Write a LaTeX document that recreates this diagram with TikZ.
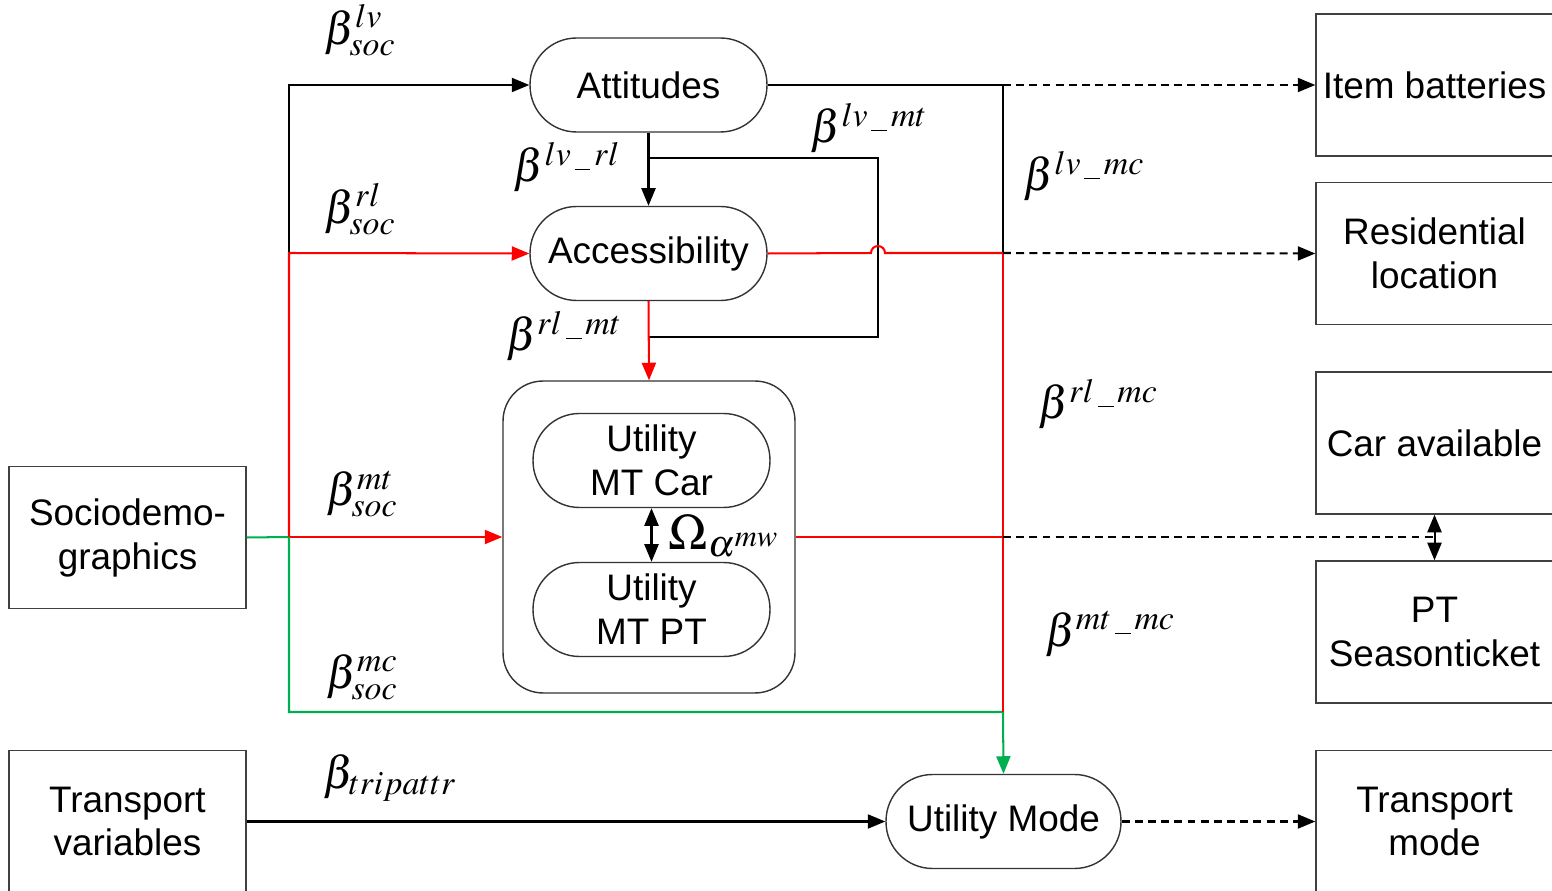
\documentclass[tikz,border=0pt]{standalone}
\usepackage{mathptmx}
\usepackage{fontspec}
\setmainfont{Liberation Sans}
\usetikzlibrary{arrows.meta}
\definecolor{mwgreen}{RGB}{0,176,80}
\newcommand{\usc}{\,\rule[-2.5pt]{9pt}{0.6pt}\,}

\begin{document}
\begin{tikzpicture}[x=0.02cm, y=-0.02cm, >={Triangle[length=10pt,width=8pt]},
    every node/.style={font=\fontsize{21}{25}\selectfont},
    latent/.style={draw=black!80, line width=0.8pt, rounded corners=0.93cm, minimum width=4.74cm, minimum height=1.88cm, align=center, inner sep=0pt},
    obsbox/.style={draw=black!75, line width=0.8pt, minimum width=4.74cm, minimum height=2.84cm, align=center, inner sep=0pt},
    coef/.style={font=\fontsize{26}{30}\selectfont},
    link/.style={line width=1.15pt},
    redlink/.style={link, red},
    greenlink/.style={link, mwgreen},
    dashlink/.style={link, dash pattern=on 4.5pt off 3pt}]
    \useasboundingbox (0,0) rectangle (1552,891);
    \clip (0,0) rectangle (1552,891);

    % observed variables
    \node[obsbox] (soc) at (127.5,537.5) {Sociodemo-\\graphics};
    \node[obsbox] (tv) at (127.5,821.5) {Transport\\variables};
    \node[obsbox] (item) at (1434.5,85) {Item batteries};
    \node[obsbox] (res) at (1434.5,253.5) {Residential\\location};
    \node[obsbox] (carav) at (1434.5,443) {Car available};
    \node[obsbox] (ptst) at (1434.5,632) {PT\\Seasonticket};
    \node[obsbox] (tm) at (1434.5,821.5) {Transport\\mode};

    % latent variables
    \node[latent] (att) at (648.5,85) {Attitudes};
    \node[latent] (acc) at (648.5,253.5) {Accessibility};
    \node[draw=black!80, line width=0.8pt, rounded corners=0.8cm, minimum width=5.84cm, minimum height=6.24cm] (mtbox) at (649,537) {};
    \node[latent] (umcar) at (651.5,460.5) {Utility\\MT Car};
    \node[latent] (umpt) at (651.5,609.5) {Utility\\MT PT};
    \node[latent, minimum width=4.7cm] (um) at (1003.5,821.5) {Utility Mode};

    \coordinate (sj) at (289,537);
    \coordinate (rlj) at (289,253);
    \coordinate (lvk) at (1003,85);
    \coordinate (rlk) at (1003,253);
    \coordinate (mtk) at (1003,537);
    \coordinate (mck) at (1003,712);
    \coordinate (b1) at (648,158);
    \coordinate (b2) at (648,337);

    % sociodemographics
    \draw[greenlink] (soc.east) -- (sj);
    \draw[link,->] (rlj) |- (att.west);
    \draw[redlink,->] (sj) -- (rlj) -- (acc.west);
    \draw[redlink,->] (sj) -- (mtbox.west);
    \draw[greenlink,->] (sj) |- (mck) -- (um.north);

    % between latent variables
    \draw[link,->] (att.south) -- (acc.north);
    \draw[link] (b1) -| (878,337) -- (b2);
    \draw[redlink,->] (acc.south) -- (mtbox.north);
    \draw[link,<->] (umcar.south) -- (umpt.north);

    % to the indicators
    \draw[link] (att.east) -- (lvk) -- (rlk);
    \draw[redlink] (acc.east) -- (871,253) arc[start angle=180, end angle=0, radius=0.14cm] -- (rlk);
    \draw[redlink] (rlk) -- (mck);
    \draw[redlink] (mtbox.east) -- (mtk);
    \draw[dashlink,->] (lvk) -- (item.west);
    \draw[dashlink,->] (rlk) -- (res.west);
    \draw[dashlink] (mtk) -- (mtk -| carav.south);
    \draw[link,<->] (carav.south) -- (ptst.north);
    \draw[link,->] (tv.east) -- (um.west);
    \draw[dashlink,->] (um.east) -- (tm.west);

    % coefficients
    \node[coef] (c1) at (360,30) {$\beta^{lv}_{soc}$};
    \node[coef] (c2) at (360,209) {$\beta^{rl}_{soc}$};
    \node[coef] (c3) at (362,494) {$\beta^{mt}_{soc}$};
    \node[coef] (c4) at (362,677) {$\beta^{mc}_{soc}$};
    \node[coef] (c5) at (390,778) {$\beta_{tripattr}$};
    \node[coef] (c6) at (567,167) {$\beta^{lv\usc rl}$};
    \node[coef] (c7) at (869,128) {$\beta^{lv\usc mt}$};
    \node[coef] (c8) at (564,336) {$\beta^{rl\usc mt}$};
    \node[coef] (c9) at (1084,176) {$\beta^{lv\usc mc}$};
    \node[coef] (c10) at (1098,404) {$\beta^{rl\usc mc}$};
    \node[coef] (c11) at (1110,634) {$\beta^{mt\usc mc}$};
    \node[coef, font=\fontsize{29}{32}\selectfont] (om) at (724,536) {$\Omega_{\alpha^{mw}}$};
\end{tikzpicture}
\end{document}
